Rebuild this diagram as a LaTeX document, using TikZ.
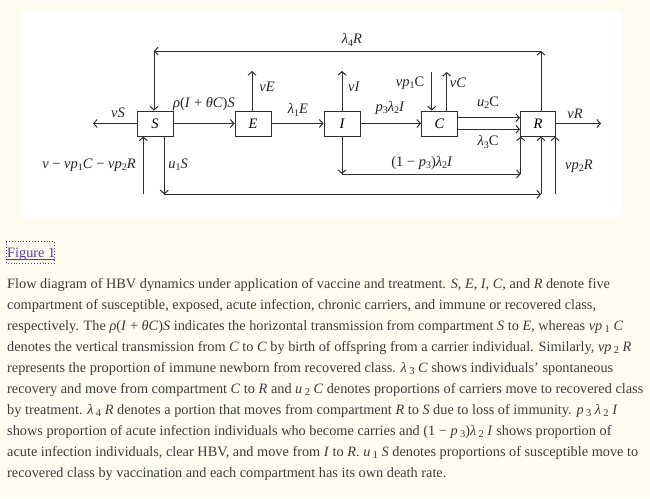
\documentclass[tikz,border=0pt]{standalone}
\usepackage{fontspec}
\setmainfont{Liberation Serif}
\usetikzlibrary{arrows.meta}
\definecolor{bgc}{HTML}{FFFDF0}
\definecolor{ink}{HTML}{2E2E2E}
\definecolor{captxt}{HTML}{3C3C3C}
\definecolor{linkc}{HTML}{5B3A9B}
\newcommand{\sbx}[1]{\raisebox{-0.4ex}{\fontsize{10.5}{10.5}\selectfont #1}}
\newcommand{\dsub}[1]{\raisebox{-0.35ex}{\fontsize{10}{10}\selectfont #1}}
\begin{document}
\begin{tikzpicture}[x=1pt,y=-1pt,
  comp/.style={draw=ink,line width=1pt,fill=white,minimum width=36pt,minimum height=25pt,inner sep=0pt,font=\fontsize{14.5}{16}\selectfont\itshape},
  lab/.style={inner sep=0pt,text=black!85,font=\fontsize{14.5}{16}\selectfont},
  flow/.style={draw=ink,line width=1pt,-{Straight Barb[length=3.5pt,width=8pt]}},
  captline/.style={anchor=base west,inner sep=0pt,text=captxt,font=\fontsize{14.3}{17}\selectfont}]
\fill[bgc] (0,0) rectangle (650,498);
\fill[white] (21,11) rectangle (621,219);
\useasboundingbox (0,0) rectangle (650,498);

% compartments
\node[comp] (S) at (155,123.5) {S};
\node[comp] (E) at (253,123.5) {E};
\node[comp] (I) at (342,123.5) {I};
\node[comp] (C) at (439.5,123.5) {C};
\node[comp,minimum width=35pt] (R) at (538,123.5) {R};

% free ends and corners
\coordinate (vSend) at (93,123.5);
\coordinate (vEend) at (252,71);
\coordinate (vIend) at (342,71);
\coordinate (vpCstart) at (431.7,72);
\coordinate (vCend) at (446.7,72);
\coordinate (vRend) at (601,123.5);
\coordinate (topR) at (541,51);
\coordinate (topS) at (154,51);
\coordinate (Idown) at (342,174);
\coordinate (Iright) at (520.7,174);
\coordinate (Sdown) at (164.3,194.3);
\coordinate (Sright) at (541,194.3);
\coordinate (vpRstart) at (555,194.3);
\coordinate (inS) at (143.3,194.3);

% connectors
\draw[flow] (S.west) -- (vSend);
\draw[flow] (S.east) -- (E.west);
\draw[flow] (E.north -| vEend) -- (vEend);
\draw[flow] (E.east) -- (I.west);
\draw[flow] (I.north) -- (vIend);
\draw[flow] (I.east) -- (C.west);
\draw[flow] (vpCstart) -- (vpCstart |- C.north);
\draw[flow] (C.north -| vCend) -- (vCend);
\draw[flow] ([yshift=5.8pt]C.east) -- ([yshift=5.8pt]R.west);
\draw[flow] ([yshift=-5.8pt]C.east) -- ([yshift=-5.8pt]R.west);
\draw[flow] (R.east) -- (vRend);
\draw[flow] (R.north -| topR) -- (topR);
\draw[flow] (topR) -- (topS);
\draw[flow] (topS) -- (topS |- S.north);
\draw[flow] (I.south) -- (Idown);
\draw[flow] (Idown) -- (Iright);
\draw[flow] (Iright) -- (Iright |- R.south);
\draw[flow] (S.south -| Sdown) -- (Sdown);
\draw[flow] (Sdown) -- (Sright);
\draw[flow] (Sright) -- (Sright |- R.south);
\draw[flow] (vpRstart) -- (vpRstart |- R.south);
\draw[flow] (inS) -- (inS |- S.south);

% labels
\node[lab] (lvS) at (118,113) {\textit{vS}};
\node[lab] (lrho) at (204,104) {\textit{ρ}(\textit{I} + \textit{θC})\textit{S}};
\node[lab] (lvE) at (267,87) {\textit{vE}};
\node[lab] (ll1E) at (298,110) {\textit{λ}\dsub{1}\textit{E}};
\node[lab] (lvI) at (354,87) {\textit{vI}};
\node[lab] (lp3) at (390,108) {\textit{p}\dsub{3}\textit{λ}\dsub{2}\textit{I}};
\node[lab] (lvp1C) at (410,83) {\textit{vp}\dsub{1}C};
\node[lab] (lvC) at (458,83) {\textit{vC}};
\node[lab] (lu2C) at (488,103) {\textit{u}\dsub{2}C};
\node[lab] (ll3C) at (488,142) {\textit{λ}\dsub{3}C};
\node[lab] (lvR) at (575,114) {\textit{vR}};
\node[lab] (ll4R) at (352,40) {\textit{λ}\dsub{4}\textit{R}};
\node[lab] (l1p3) at (422,163) {(1 − \textit{p}\dsub{3})\textit{λ}\dsub{2}\textit{I}};
\node[lab] (lu1S) at (178,165) {\textit{u}\dsub{1}\textit{S}};
\node[lab] (lvp2R) at (579,166) {\textit{vp}\dsub{2}\textit{R}};
\node[lab] (lin) at (89,165) {\textit{v} − \textit{vp}\dsub{1}\textit{C} − \textit{vp}\dsub{2}\textit{R}};

% figure link
\node[anchor=base west,inner sep=0pt,text=linkc,font=\fontsize{14.3}{16}\selectfont] (fig) at (7,257.5) {Figure 1};
\draw[linkc,line width=0.7pt] ([yshift=-1.8pt]fig.base west) -- ([yshift=-1.8pt]fig.base east);
\draw[linkc,line width=0.9pt,dotted] (6,241.5) rectangle (54.5,263);

% caption
\node[captline] (c1) at (7,288) {Flow diagram of HBV dynamics under application of vaccine and treatment. \textit{S}, \textit{E}, \textit{I}, \textit{C}, and \textit{R} denote five};
\node[captline] (c2) at (7,309) {compartment of susceptible, exposed, acute infection, chronic carriers, and immune or recovered class,};
\node[captline] (c3) at (7,330) {respectively. The \textit{ρ}(\textit{I} + \textit{θC})\textit{S} indicates the horizontal transmission from compartment \textit{S} to \textit{E}, whereas \textit{vp}\,\sbx{1} \textit{C}};
\node[captline] (c4) at (7,351) {denotes the vertical transmission from \textit{C} to \textit{C} by birth of offspring from a carrier individual. Similarly, \textit{vp}\,\sbx{2} \textit{R}};
\node[captline] (c5) at (7,372) {represents the proportion of immune newborn from recovered class. \textit{λ}\,\sbx{3} \textit{C} shows individuals' spontaneous};
\node[captline] (c6) at (7,393) {recovery and move from compartment \textit{C} to \textit{R} and \textit{u}\,\sbx{2} \textit{C} denotes proportions of carriers move to recovered class};
\node[captline] (c7) at (7,414) {by treatment. \textit{λ}\,\sbx{4} \textit{R} denotes a portion that moves from compartment \textit{R} to \textit{S} due to loss of immunity. \textit{p}\,\sbx{3} \textit{λ}\,\sbx{2} \textit{I}};
\node[captline] (c8) at (7,435) {shows proportion of acute infection individuals who become carries and (1 − \textit{p}\,\sbx{3})\textit{λ}\,\sbx{2} \textit{I} shows proportion of};
\node[captline] (c9) at (7,456) {acute infection individuals, clear HBV, and move from \textit{I} to \textit{R}. \textit{u}\,\sbx{1} \textit{S} denotes proportions of susceptible move to};
\node[captline] (c10) at (7,477) {recovered class by vaccination and each compartment has its own death rate.};
\end{tikzpicture}
\end{document}
